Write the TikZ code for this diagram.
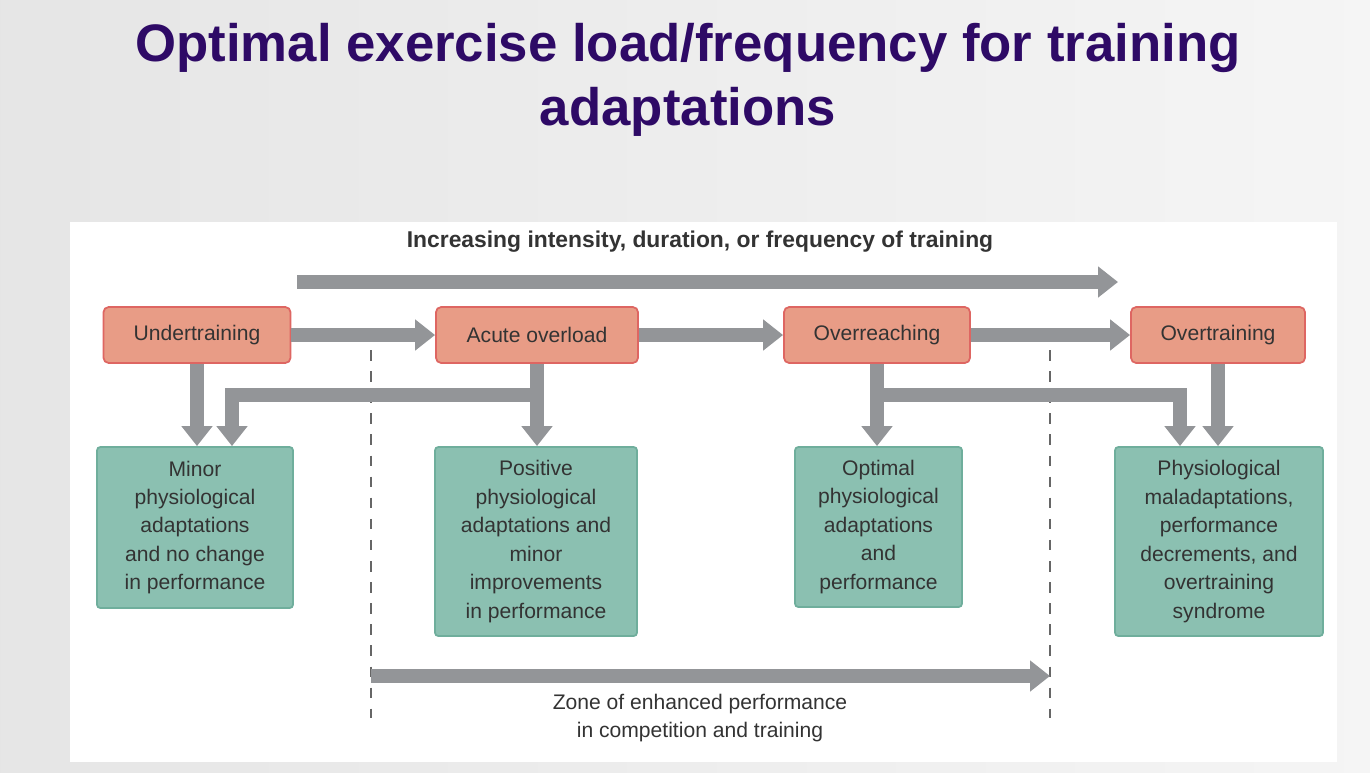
\documentclass[tikz,border=0pt]{standalone}
\usepackage{fontspec}
\setmainfont{Liberation Sans}
\usetikzlibrary{arrows.meta,positioning}
\definecolor{titlepurple}{HTML}{2E0A66}
\definecolor{loadred}{HTML}{E89C86}
\definecolor{loadedge}{HTML}{DE6662}
\definecolor{effgreen}{HTML}{8BC0B1}
\definecolor{effedge}{HTML}{6FAE9C}
\definecolor{flowgrey}{HTML}{939598}
\tikzset{
  loadbox/.style={draw=loadedge, fill=loadred, rounded corners=1.5pt, line width=0.5pt,
    minimum height=0.56cm, inner sep=0pt, font=\fontsize{6}{7}\selectfont, text=black!80},
  effbox/.style={draw=effedge, fill=effgreen, rounded corners=1pt, line width=0.5pt,
    inner sep=0pt, align=center, font=\fontsize{6}{8.1}\selectfont, text=black!80},
  flow/.style={draw=flowgrey, line width=0.14cm, -{Triangle[width=0.3cm,length=0.2cm]}},
  bar/.style={draw=flowgrey, line width=0.14cm},
  zone/.style={draw=black!60, dashed, line width=0.4pt}
}
\begin{document}
\begin{tikzpicture}[x=0.01cm,y=-0.01cm]
\useasboundingbox (0,0) rectangle (1370,772);
% background
\shade[left color=black!10, right color=black!4] (0,0) rectangle (1370,772);
\fill[white] (70,222) rectangle (1337,762);
% title
\node[text=titlepurple, font=\fontsize{15}{18}\selectfont\bfseries, align=center] (title) at (688,80)
  {Optimal exercise load/frequency for training\\adaptations};
\node[font=\fontsize{6.5}{7}\selectfont\bfseries, text=black!80] (head) at (700,242)
  {Increasing intensity, duration, or frequency of training};
% load boxes
\node[loadbox, minimum width=1.87cm] (under) at (197,335) {Undertraining};
\node[loadbox, minimum width=2.02cm] (acute) at (537,335) {Acute overload};
\node[loadbox, minimum width=1.86cm] (overr) at (877,335) {Overreaching};
\node[loadbox, minimum width=1.74cm] (overt) at (1218,335) {Overtraining};
% effect boxes
\node[effbox, minimum width=1.96cm, minimum height=1.61cm] (minor) at (195,527.5)
  {Minor\\physiological\\adaptations\\and no change\\in performance};
\node[effbox, minimum width=2.02cm, minimum height=1.89cm] (posit) at (536,541.5)
  {Positive\\physiological\\adaptations and\\minor\\improvements\\in performance};
\node[effbox, minimum width=1.67cm, minimum height=1.60cm] (optim) at (878.5,527)
  {Optimal\\physiological\\adaptations\\and\\performance};
\node[effbox, minimum width=2.08cm, minimum height=1.89cm] (malad) at (1219,541.5)
  {Physiological\\maladaptations,\\performance\\decrements, and\\overtraining\\syndrome};
% zone
\coordinate (zl) at (371,350);
\coordinate (zr) at (1050,350);
\coordinate (bl) at (232,388);
\coordinate (br) at (1180,388);
\draw[zone] (zl) -- ++(0,368);
\draw[zone] (zr) -- ++(0,368);
\node[font=\fontsize{6}{8.1}\selectfont, text=black!80, align=center] (zonetxt) at (700,718)
  {Zone of enhanced performance\\in competition and training};
% flows
\draw[flow] (297,282) -- (1118,282);
\draw[flow] (under) -- (acute);
\draw[flow] (acute) -- (overr);
\draw[flow] (overr) -- (overt);
\draw[flow] (under.south) -- (under.south |- minor.north);
\draw[flow] (acute.south) -- (acute.south |- posit.north);
\draw[bar] (acute.south |- 0,395) -- (225,395);
\draw[flow] (bl) -- (bl |- minor.north);
\draw[flow] (overr.south) -- (overr.south |- optim.north);
\draw[bar] (overr.south |- 0,395) -- (1187,395);
\draw[flow] (br) -- (br |- malad.north);
\draw[flow] (overt.south) -- (overt.south |- malad.north);
\draw[flow] (zl |- 0,676) -- (zr |- 0,676);
\end{tikzpicture}
\end{document}
